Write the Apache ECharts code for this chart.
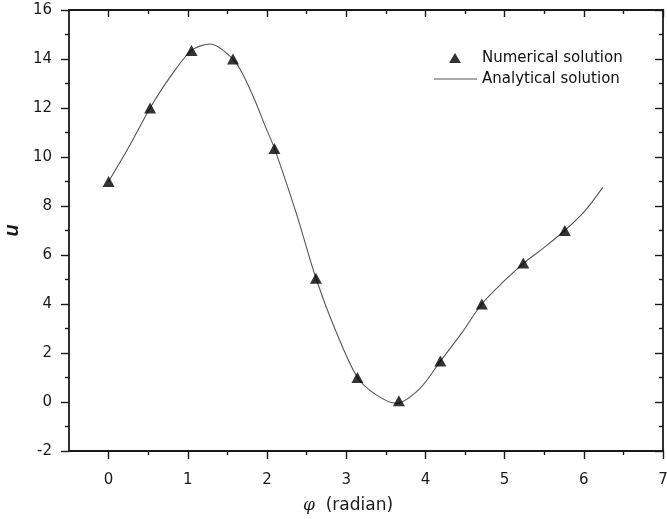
<!DOCTYPE html>
<html lang="en">
<head>
<meta charset="utf-8">
<title>u vs phi</title>
<script src="https://cdn.jsdelivr.net/npm/echarts@6/dist/echarts.min.js"></script>
<style>
  html, body { margin: 0; padding: 0; background: #fff; }
  #chart { width: 667px; height: 519px; }
</style>
</head>
<body>
<div id="chart"></div>
<script type="text/javascript">
// numerical solution, phi = k*pi/6
var numX = [0, 0.524, 1.047, 1.571, 2.094, 2.618, 3.142, 3.665, 4.189, 4.712, 5.236, 5.760];
var numU = [9.0, 12.0, 14.35, 14.0, 10.35, 5.05, 1.0, 0.05, 1.67, 4.0, 5.67, 7.0];

// analytical solution
var anaX = [0, 0.27, 0.524, 0.78, 1.047, 1.28, 1.571, 1.71, 1.845, 1.98, 2.094, 2.37, 2.618, 2.854, 3.142, 3.38, 3.63, 3.93, 4.189, 4.46, 4.712, 4.985, 5.236, 5.50, 5.760, 6.006, 6.24];
var anaU = [9.0, 10.49, 12.0, 13.28, 14.35, 14.61, 14.0, 13.28, 12.33, 11.24, 10.35, 7.7, 5.05, 3.01, 1.0, 0.29, -0.05, 0.55, 1.67, 2.82, 4.0, 4.91, 5.65, 6.31, 7.0, 7.77, 8.76];

var xMajor = [0, 1, 2, 3, 4, 5, 6, 7];
var xMinor = [0.5, 1.5, 2.5, 3.5, 4.5, 5.5, 6.5];

function pairs(xs, ys) {
    var out = [];
    for (var i = 0; i < xs.length; i++) {
        out.push([xs[i], ys[i]]);
    }
    return out;
}

var axisColor = '#1a1a1a';
var font = 'DejaVu Sans, Verdana, sans-serif';

function xAx(pos, ticks, len, inside, labels) {
    return {
        type: 'value', position: pos, min: -0.5, max: 7,
        axisLine: { show: true, onZero: false, lineStyle: { color: axisColor, width: 1.8 } },
        axisTick: { show: true, inside: inside, length: len, customValues: ticks, lineStyle: { color: axisColor, width: 1.4 } },
        axisLabel: labels ? { show: true, customValues: ticks, margin: 22, fontSize: 15, color: '#1a1a1a', fontFamily: font } : { show: false },
        splitLine: { show: false }
    };
}

var myChart = echarts.init(document.getElementById('chart'));
var option = {
    animation: false,
    backgroundColor: '#fff',
    grid: { left: 69, right: 4, top: 10, bottom: 68, containLabel: false, outerBoundsMode: 'none' },
    legend: [{
        orient: 'vertical', left: 444, top: 44,
        itemWidth: 12, itemHeight: 10,
        textStyle: { fontSize: 15, lineHeight: 18, color: '#111', fontFamily: font, padding: [0, 0, 0, 16] },
        data: [{ name: 'Numerical solution', icon: 'triangle' }]
    }, {
        orient: 'vertical', left: 429, top: 65,
        itemWidth: 43, itemHeight: 1,
        textStyle: { fontSize: 15, lineHeight: 18, color: '#111', fontFamily: font },
        data: [{ name: 'Analytical solution', icon: 'rect' }]
    }],
    xAxis: [
        (function () {
            var a = xAx('bottom', xMajor, 8, false, true);
            a.name = '{phi|φ}  (radian)';
            a.nameLocation = 'middle';
            a.nameGap = 46;
            a.nameTextStyle = {
                fontSize: 17, color: '#1a1a1a', fontFamily: font, padding: [0, 36, 0, 0],
                rich: { phi: { fontSize: 17, fontStyle: 'italic', fontFamily: 'DejaVu Serif, serif', color: '#1a1a1a' } }
            };
            return a;
        })(),
        xAx('bottom', xMinor, 4, false, false),
        xAx('top', xMajor, 7, true, false),
        xAx('top', xMinor, 4, true, false)
    ],
    yAxis: [{
        type: 'value', position: 'left', min: -2, max: 16, interval: 2,
        name: 'u', nameLocation: 'middle', nameGap: 41,
        nameTextStyle: { fontSize: 20, fontWeight: 'bold', fontStyle: 'italic', color: '#1a1a1a', fontFamily: 'Liberation Sans, Arial, sans-serif' },
        axisLine: { show: true, onZero: false, lineStyle: { color: axisColor, width: 1.8 } },
        axisTick: { show: true, inside: false, length: 8, lineStyle: { color: axisColor, width: 1.4 } },
        minorTick: { show: true, splitNumber: 2, length: 4, lineStyle: { color: axisColor, width: 1.4 } },
        axisLabel: { margin: 17, fontSize: 15, color: '#1a1a1a', fontFamily: font },
        splitLine: { show: false }
    }, {
        type: 'value', position: 'right', min: -2, max: 16, interval: 2,
        axisLine: { show: true, onZero: false, lineStyle: { color: axisColor, width: 1.8 } },
        axisTick: { show: true, inside: true, length: 8, lineStyle: { color: axisColor, width: 1.4 } },
        minorTick: { show: true, splitNumber: 2, length: 4, lineStyle: { color: axisColor, width: 1.4 } },
        axisLabel: { show: false },
        splitLine: { show: false }
    }],
    series: [{
        name: 'Numerical solution',
        type: 'scatter',
        xAxisIndex: 0, yAxisIndex: 0,
        symbol: 'triangle',
        symbolSize: [12, 11],
        itemStyle: { color: '#000' },
        data: pairs(numX, numU),
        z: 3
    }, {
        name: 'Analytical solution',
        type: 'line',
        xAxisIndex: 0, yAxisIndex: 0,
        smooth: 0.3,
        showSymbol: false,
        symbol: 'none',
        lineStyle: { color: '#555', width: 1.1 },
        itemStyle: { color: '#555' },
        data: pairs(anaX, anaU),
        z: 2
    }]
};
myChart.setOption(option);
</script>
</body>
</html>
